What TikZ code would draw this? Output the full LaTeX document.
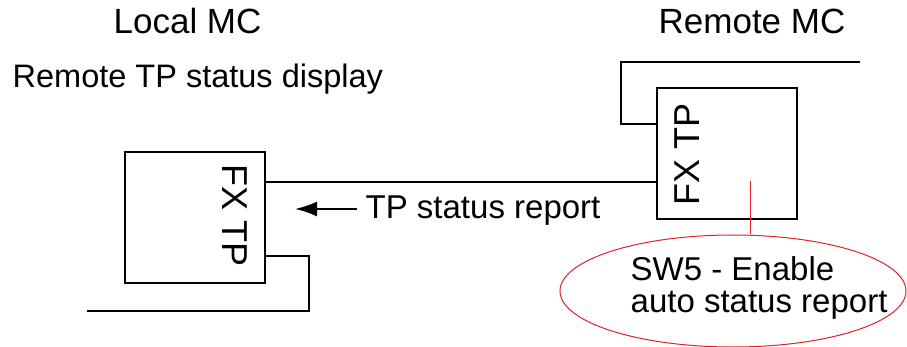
\documentclass[tikz,border=0pt]{standalone}
\usepackage{fontspec}
\setmainfont{Liberation Sans}
\usetikzlibrary{arrows.meta,shapes.geometric}
\definecolor{callred}{RGB}{228,32,40}
\begin{document}
\begin{tikzpicture}[x=1pt,y=-1pt,
  line width=1.3pt,
  box/.style={draw,line width=1.3pt,minimum width=140pt,minimum height=131pt,inner sep=0pt},
  lbl/.style={inner sep=0pt,anchor=base west},
  conn/.style={draw,line width=1.3pt}]
\useasboundingbox (0,0) rectangle (907,347);
% boxes
\node[box] (lbox) at (195,217.5) {};
\node[box] (rbox) at (727,153.5) {};
% labels
\node[lbl,font=\fontsize{35}{40}\selectfont] (lmc) at (113,34) {Local MC};
\node[lbl,font=\fontsize{35}{40}\selectfont] (rmc) at (658,34) {Remote MC};
\node[lbl,font=\fontsize{32.5}{38}\selectfont] (disp) at (12,88) {Remote TP status display};
\node[inner sep=0pt,rotate=-90,font=\fontsize{36}{40}\selectfont] (lfx) at (235,216) {FX TP};
\node[inner sep=0pt,rotate=90,font=\fontsize{36}{40}\selectfont] (rfx) at (687,154) {FX TP};
% coordinates
\coordinate (a1) at (265,182);
\coordinate (a2) at (657,182);
\coordinate (b1) at (265,256);
\coordinate (b2) at (309,256);
\coordinate (b3) at (309,311);
\coordinate (b4) at (87,311);
\coordinate (c1) at (657,124);
\coordinate (c2) at (621,124);
\coordinate (c3) at (621,62);
\coordinate (c4) at (860,62);
\draw[conn] (a1) -- (a2);
\draw[conn] (b1) -- (b2) -- (b3) -- (b4);
\draw[conn] (c1) -- (c2) -- (c3) -- (c4);
% arrow
\node[lbl,font=\fontsize{33}{38}\selectfont] (rep) at (365,219) {TP status report};
\coordinate (ar1) at (357,209);
\coordinate (ar2) at (295,209);
\draw[line width=2pt,-{Latex[length=22pt,width=15pt]}] (ar1) -- (ar2);
% ellipse callout
\node[draw=callred,line width=1pt,ellipse,inner sep=0pt,minimum width=346pt,minimum height=112pt] (ell) at (733,291) {};
\coordinate (sw) at (750,181);
\draw[callred,line width=1pt] (sw) -- (sw |- ell.north);
\node[lbl,font=\fontsize{33}{38}\selectfont] (sw5) at (630,280) {SW5 - Enable};
\node[lbl,font=\fontsize{33}{38}\selectfont] (auto) at (630,312) {auto status report};
\end{tikzpicture}
\end{document}
